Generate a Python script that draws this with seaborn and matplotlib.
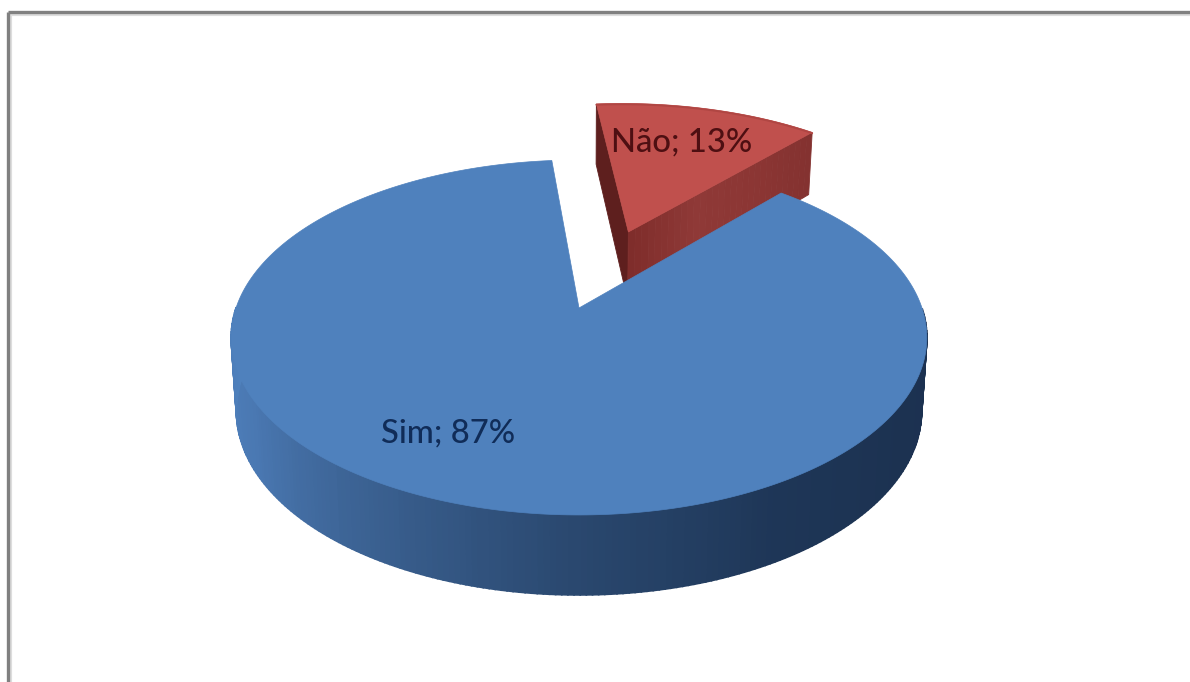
import numpy as np
import matplotlib
matplotlib.use("Agg")
import matplotlib.pyplot as plt
import seaborn as sns

# Survey answers and their shares (percent)
answers = ["Sim", "Não"]
shares = [87, 13]
explode = [0.0, 0.5]
top_colors = ["#4F81BD", "#C0504D"]
label_colors = ["#102C58", "#4E0F12"]

# Perspective camera for the tilted pie, in pixels of the canvas
CX, CY = 579, 308
SCALE_X, SCALE_Y, TILT = 343, 172.6, 0.166
START_ANGLE = 95.3


def project(u, v, lower=False):
    """Map a point of the unit pie plane (optionally its lower face) to the canvas."""
    u, v = np.asarray(u, float), np.asarray(v, float)
    w = 1 + TILT * v
    x = SCALE_X * u / w
    y = -SCALE_Y * v / w
    if lower:
        x = x * 0.985
        y = y + 72 - 8 * v
    return CX + x, CY + y


def wall(ax, ua, va, ub, vb, color, lw=1.2):
    xa, ya = project(ua, va)
    xb, yb = project(ub, vb)
    xc, yc = project(ub, vb, lower=True)
    xd, yd = project(ua, va, lower=True)
    ax.fill([xa, xb, xc, xd], [ya, yb, yc, yd], color=color, lw=lw, ec=color)


sns.set_theme(style="white")
fig = plt.figure(figsize=(11.9, 6.82), dpi=100, facecolor="white")
ax = fig.add_axes([0, 0, 1, 1])
ax.set_xlim(0, 1190)
ax.set_ylim(682, 0)
ax.axis("off")

# Window frame along the top and the left
for lw, col, off in [(3.0, "#DDDDDD", 2.5), (2.4, "#808080", 0.0)]:
    ax.plot([7.5 + off, 1190], [11.5 + off, 11.5 + off], color=col, lw=lw, solid_capstyle="butt")
    ax.plot([7.5 + off, 7.5 + off], [11.5 + off, 682], color=col, lw=lw, solid_capstyle="butt")

# Slice extents, running clockwise: the second answer sits first after the start angle
sweeps = np.array(shares) * 3.6
no_start, no_end = START_ANGLE, START_ANGLE - sweeps[1]
yes_start, yes_end = no_end, no_end - sweeps[0]

# Exploded slice: walls first, then its top face
mid = np.radians((no_start + no_end) / 2)
off_u, off_v = explode[1] * np.cos(mid), explode[1] * np.sin(mid)
th = np.radians(np.linspace(no_start, no_end, 40))
rim_u, rim_v = off_u + np.cos(th), off_v + np.sin(th)
wall(ax, off_u, off_v, rim_u[0], rim_v[0], "#5E1F1E", lw=0.6)
n_shade = 30
front_shades = sns.blend_palette(["#7F2D2B", "#8F3937", "#8C3634", "#843230"], n_shade)
t = np.linspace(0, 1, n_shade + 1)
for i in range(n_shade):
    wall(ax, off_u + t[i] * (rim_u[-1] - off_u), off_v + t[i] * (rim_v[-1] - off_v),
         off_u + t[i + 1] * (rim_u[-1] - off_u), off_v + t[i + 1] * (rim_v[-1] - off_v),
         front_shades[i], lw=0.6)
xs, ys = project(np.r_[off_u, rim_u], np.r_[off_v, rim_v])
ax.fill(xs, ys, color=top_colors[1], lw=0.5, ec=top_colors[1])
# Faint darker rim along the slice's outer arc
arc_x, arc_y = project(rim_u, rim_v)
ax.plot(arc_x, arc_y + 0.8, color="#B04643", lw=1.4)

# Main slice: shaded outer wall on the near half only, then its top face
th = np.radians(np.linspace(yes_start, yes_end, 361))
rim_u, rim_v = np.cos(th), np.sin(th)
anchors = ["#1B3050", "#1C3251", "#1E3657", "#2A486F", "#3A6090", "#4A78B2", "#4F81BD"]
n_front = 240
shades = sns.blend_palette(anchors, n_front)
for i in range(len(th) - 1):
    deg = np.degrees(th[i])
    if not -180 <= deg <= 0:
        continue
    # 0 degrees is the right-hand end of the disc, -180 the left-hand end
    wall(ax, rim_u[i], rim_v[i], rim_u[i + 1], rim_v[i + 1],
         shades[int(-deg / 180.0 * (n_front - 1))])
xs, ys = project(np.r_[0, rim_u], np.r_[0, rim_v])
ax.fill(xs, ys, color=top_colors[0], lw=0.5, ec=top_colors[0])

# Data labels
ax.text(448, 433, f"{answers[0]}; {shares[0]}%", ha="center", va="center",
        family="Lato", fontsize=23.6, weight="medium", color=label_colors[0])
ax.text(681.5, 142, f"{answers[1]}; {shares[1]}%", ha="center", va="center",
        family="Lato", fontsize=23.6, weight="medium", color=label_colors[1])

fig.savefig("out.png", dpi=100, facecolor="white")
